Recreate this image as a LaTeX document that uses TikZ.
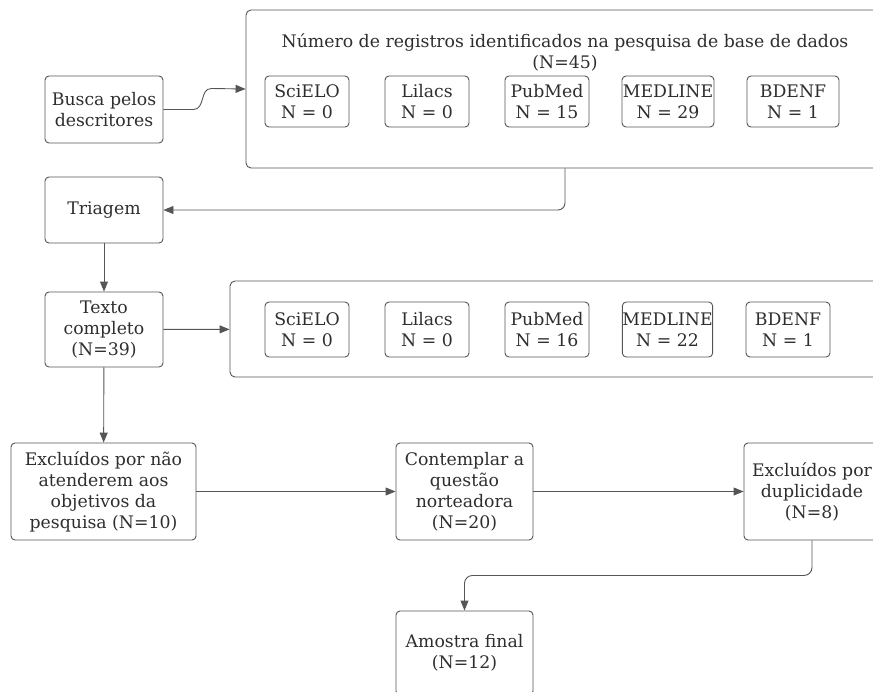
\documentclass[tikz,border=0pt]{standalone}
\usepackage{fontspec}
\setmainfont{DejaVu Serif}
\usetikzlibrary{arrows.meta}
\definecolor{lc}{HTML}{555555}
\definecolor{tc}{HTML}{2e2e2e}
\newcommand{\fs}{\fontsize{17.3}{21}\selectfont}
\tikzset{
  box/.style={draw=lc, rounded corners=4pt, line width=0.9pt, inner sep=0pt, align=center, text=tc, font=\fs},
  frame/.style={draw=lc, rounded corners=5pt, line width=0.9pt, inner sep=0pt},
  arr/.style={draw=lc, line width=0.9pt, -{Triangle[length=10pt,width=8pt]}},
  lbl/.style={inner sep=0pt, align=center, text=tc, font=\fs},
}
\begin{document}
\begin{tikzpicture}[x=1pt,y=-1pt]
\useasboundingbox (0,0) rectangle (873,691);
\clip (0,0) rectangle (873,691);
% big frames
\node[frame, minimum width=638pt, minimum height=158pt] (big1) at (565,89) {};
\node[lbl] (title) at (565,52) {Número de registros identificados na pesquisa de base de dados\\(N=45)};
\node[frame, minimum width=660pt, minimum height=96pt] (big2) at (560,329) {};
% left column
\node[box, minimum width=118pt, minimum height=67pt] (busca) at (104,109.5) {Busca pelos\\descritores};
\node[box, minimum width=118pt, minimum height=66pt] (triagem) at (104,210) {Triagem};
\node[box, minimum width=118pt, minimum height=75pt] (texto) at (104,329.5) {Texto\\completo\\(N=39)};
\node[box, minimum width=185pt, minimum height=97pt] (excl1) at (103.5,491.5) {Excluídos por não\\atenderem aos\\objetivos da\\pesquisa (N=10)};
\node[box, minimum width=137pt, minimum height=97pt] (contemp) at (464.5,491.5) {Contemplar a\\questão\\norteadora\\(N=20)};
\node[box, minimum width=136pt, minimum height=97pt] (excl2) at (812,491.5) {Excluídos por\\duplicidade\\(N=8)};
\node[box, minimum width=137pt, minimum height=84pt] (amostra) at (464.5,653) {Amostra final\\(N=12)};
% row 1 databases
\node[box, minimum width=84pt, minimum height=51pt] (s1) at (307,101.5) {SciELO\\N = 0};
\node[box, minimum width=84pt, minimum height=51pt] (l1) at (427,101.5) {Lilacs\\N = 0};
\node[box, minimum width=84pt, minimum height=51pt] (p1) at (547,101.5) {PubMed\\N = 15};
\node[box, minimum width=92pt, minimum height=51pt] (m1) at (668,101.5) {MEDLINE\\N = 29};
\node[box, minimum width=92pt, minimum height=51pt] (b1) at (793,101.5) {BDENF\\N = 1};
% row 2 databases
\node[box, minimum width=84pt, minimum height=55pt] (s2) at (307,329.5) {SciELO\\N = 0};
\node[box, minimum width=84pt, minimum height=55pt] (l2) at (427,329.5) {Lilacs\\N = 0};
\node[box, minimum width=84pt, minimum height=55pt] (p2) at (547,329.5) {PubMed\\N = 16};
\node[box, minimum width=83pt, minimum height=55pt] (m2) at (667.5,329.5) {MEDLINE\\N = 22};
\node[box, minimum width=84pt, minimum height=55pt] (b2) at (788,329.5) {BDENF\\N = 1};
% connectors
\draw[arr] (busca.east) -- ++(30,0) .. controls ++(12,0) and ++(-12,0) .. ++(18,-21) -- (big1.west);
\draw[arr, rounded corners=7pt] (big1.south) |- (triagem.east);
\draw[arr] (triagem) -- (texto);
\draw[arr] (texto) -- (big2);
\draw[arr] (texto) -- (excl1);
\draw[arr] (excl1) -- (contemp);
\draw[arr] (contemp) -- (excl2);
\draw[arr, rounded corners=8pt] (excl2.south) -- ++(0,35) -| (amostra.north);
\end{tikzpicture}
\end{document}
